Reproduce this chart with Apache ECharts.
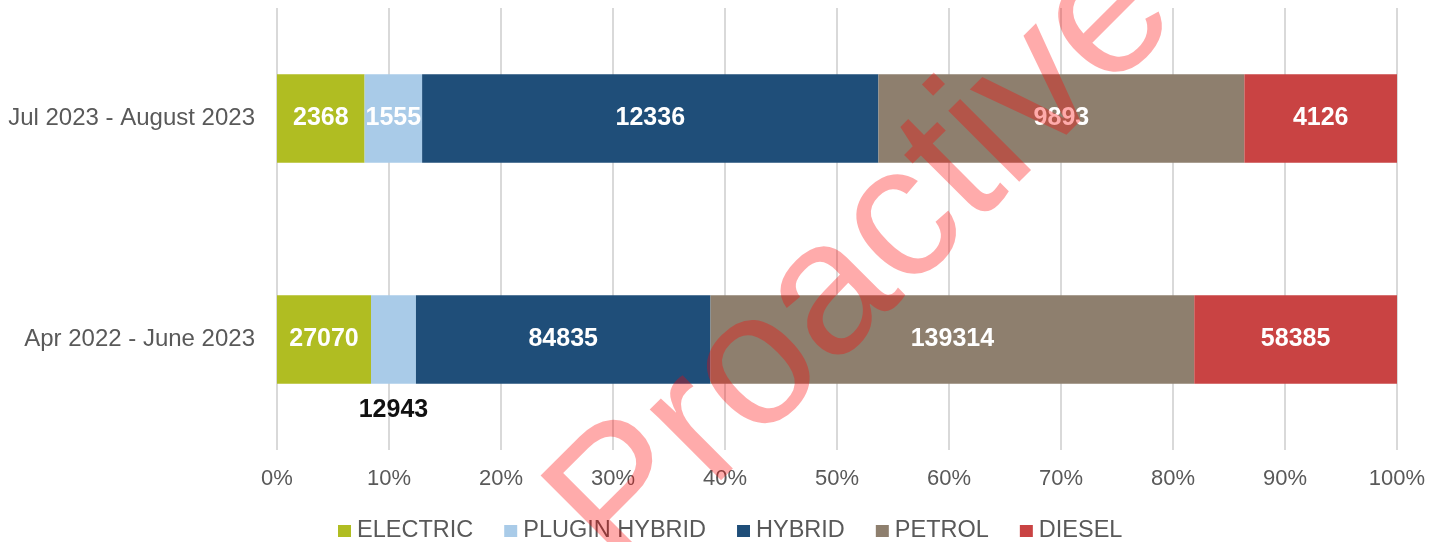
<!DOCTYPE html>
<html>
<head>
<meta charset="utf-8">
<script src="https://cdn.jsdelivr.net/npm/echarts@6/dist/echarts.min.js"></script>
<style>
  html, body { margin: 0; padding: 0; background: #fff; }
  #main { width: 1432px; height: 542px; }
</style>
</head>
<body>
<div id="main"></div>
<script>
// periods, bottom row first (category axis goes upwards)
const categories = ['Apr 2022 - June 2023', 'Jul 2023 - August 2023'];

// registrations per fuel type
const electric = [27070, 2368];
const pluginHybrid = [12943, 1555];
const hybrid = [84835, 12336];
const petrol = [139314, 9893];
const diesel = [58385, 4126];

const seriesNames = ['ELECTRIC', 'PLUGIN HYBRID', 'HYBRID', 'PETROL', 'DIESEL'];
const colors = ['#b0bd22', '#a9cbe8', '#1f4e79', '#8e7f6e', '#c94343'];
const rows = [electric, pluginHybrid, hybrid, petrol, diesel];

const totals = categories.map((c, i) => rows.reduce((s, r) => s + r[i], 0));

const font = '"Liberation Sans", Arial, sans-serif';

let chartDom = document.getElementById('main');
let myChart = echarts.init(chartDom);
let option;

const series = rows.map((row, k) => ({
  name: seriesNames[k],
  type: 'bar',
  stack: 'share',
  barWidth: '40%',
  itemStyle: { color: colors[k] },
  label: {
    show: true,
    position: 'inside',
    color: '#fff',
    fontFamily: font,
    fontWeight: 'bold',
    fontSize: 25,
    formatter: (p) => row[p.dataIndex]
  },
  data: row.map((v, i) => {
    const item = { value: (v / totals[i]) * 100 };
    // small plugin hybrid slice: label sits under the bar
    if (k === 1 && i === 0) {
      item.label = { position: 'bottom', distance: 14, color: '#111' };
    }
    return item;
  })
}));

option = {
  animation: false,
  grid: { left: 277, right: 35, top: 8, bottom: 92 },
  legend: {
    top: 514,
    left: 333,
    icon: 'rect',
    itemWidth: 13,
    itemHeight: 12,
    itemGap: 31,
    textStyle: { color: '#595959', fontSize: 23.5, fontFamily: font, padding: [0, 0, 0, 1] },
    data: seriesNames
  },
  xAxis: {
    type: 'value',
    min: 0,
    max: 100,
    interval: 10,
    axisLine: { show: false },
    axisTick: { show: false },
    splitLine: { lineStyle: { color: '#d9d9d9', width: 2 } },
    axisLabel: {
      color: '#595959',
      fontSize: 22,
      fontFamily: font,
      margin: 18,
      formatter: '{value}%'
    }
  },
  yAxis: {
    type: 'category',
    data: categories,
    axisLine: { show: false },
    axisTick: { show: false },
    axisLabel: { color: '#595959', fontSize: 24, fontFamily: font, margin: 22 }
  },
  series: series,
  graphic: {
    elements: [
      {
        type: 'text',
        x: 865,
        y: 262,
        rotation: Math.PI / 4,
        z: 100,
        silent: true,
        style: {
          text: 'Proactive',
          fontSize: 190,
          fontFamily: font,
          fill: 'rgba(255, 0, 0, 0.33)',
          align: 'center',
          verticalAlign: 'middle'
        }
      }
    ]
  }
};

option && myChart.setOption(option);
</script>
</body>
</html>
